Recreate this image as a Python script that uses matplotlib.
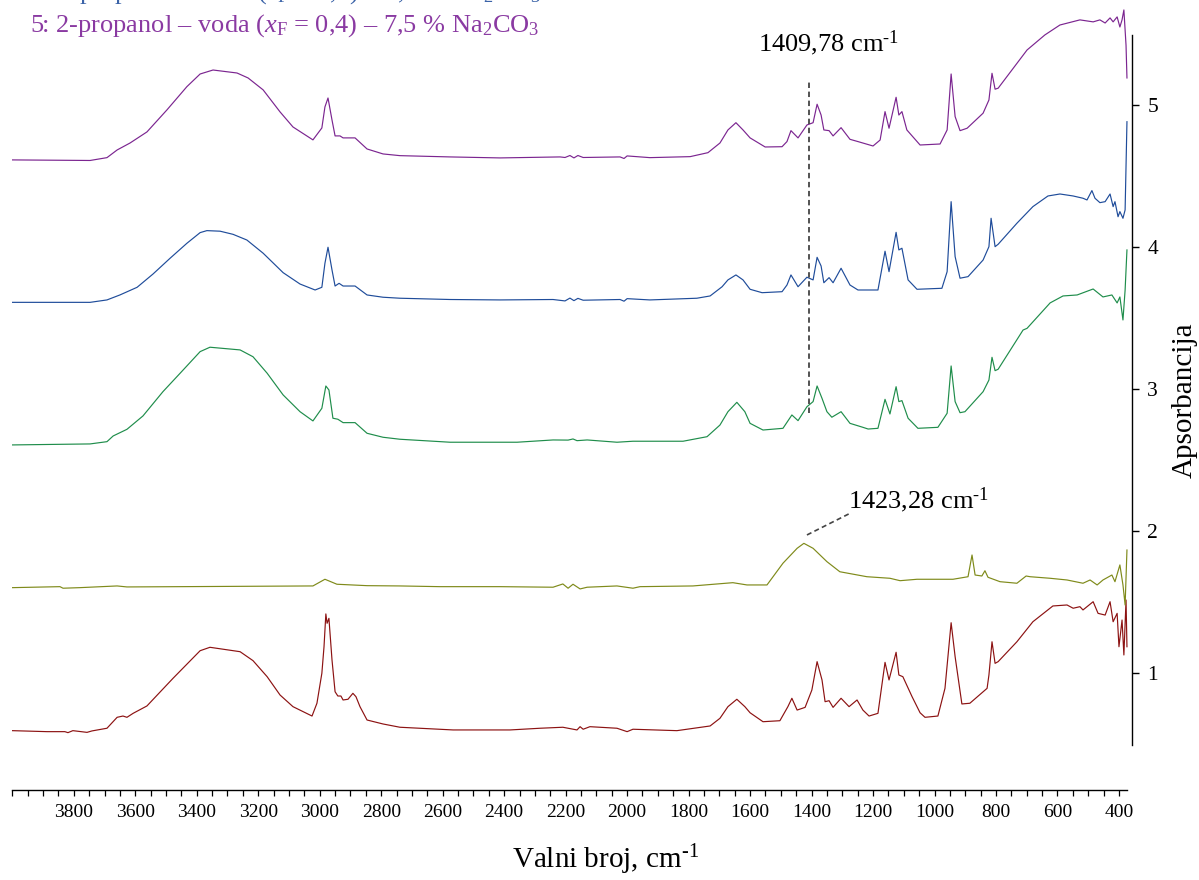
import matplotlib

matplotlib.use("Agg")
import matplotlib.pyplot as plt
from matplotlib.ticker import FixedLocator, MultipleLocator


# wavenumber (cm-1) and absorbance, one pair per spectrum
WN_1 = [4000, 3887, 3829, 3819, 3803, 3757, 3741, 3692, 3659, 3640,
        3627, 3607, 3562, 3477, 3389, 3357, 3259, 3217, 3171, 3129,
        3087, 3025, 3009, 2993, 2986, 2980, 2976, 2970, 2960, 2950,
        2941, 2931, 2924, 2908, 2892, 2882, 2869, 2846, 2794, 2739,
        2566, 2381, 2283, 2209, 2163, 2153, 2143, 2121, 2033, 2000,
        1981, 1838, 1730, 1698, 1672, 1643, 1617, 1600, 1558, 1503,
        1477, 1464, 1447, 1421, 1399, 1382, 1366, 1356, 1343, 1330,
        1304, 1278, 1252, 1233, 1213, 1184, 1161, 1148, 1125, 1116,
        1103, 1073, 1047, 1031, 989, 966, 946, 933, 911, 885,
        829, 823, 813, 803, 793, 732, 680, 615, 569, 549,
        527, 517, 484, 468, 445, 429, 419, 406, 400, 390,
        384, 377, 374]
ABS_1 = [0.594, 0.587, 0.587, 0.580, 0.594, 0.582, 0.592, 0.611, 0.688, 0.697,
         0.688, 0.716, 0.768, 0.963, 1.157, 1.181, 1.150, 1.087, 0.974, 0.845,
         0.763, 0.697, 0.787, 0.998, 1.185, 1.416, 1.350, 1.385, 1.092, 0.868,
         0.838, 0.838, 0.810, 0.815, 0.857, 0.833, 0.763, 0.669, 0.641, 0.618,
         0.599, 0.599, 0.611, 0.618, 0.599, 0.622, 0.604, 0.622, 0.611, 0.587,
         0.604, 0.594, 0.627, 0.681, 0.763, 0.815, 0.763, 0.720, 0.657, 0.664,
         0.763, 0.822, 0.739, 0.758, 0.880, 1.080, 0.951, 0.798, 0.805, 0.758,
         0.822, 0.763, 0.810, 0.739, 0.697, 0.716, 1.075, 0.951, 1.146, 0.986,
         0.974, 0.833, 0.720, 0.688, 0.697, 0.892, 1.354, 1.115, 0.782, 0.787,
         0.892, 0.986, 1.220, 1.068, 1.080, 1.220, 1.361, 1.472, 1.479, 1.456,
         1.467, 1.444, 1.502, 1.420, 1.408, 1.502, 1.361, 1.420, 1.185, 1.373,
         1.127, 1.514, 1.185]

WN_2 = [4000, 3845, 3835, 3780, 3659, 3627, 3022, 2983, 2944, 2846,
        2739, 2609, 2413, 2241, 2209, 2192, 2176, 2153, 2130, 2033,
        1981, 1958, 1786, 1656, 1610, 1545, 1493, 1447, 1425, 1395,
        1350, 1308, 1220, 1145, 1112, 1057, 940, 891, 878, 868,
        846, 836, 826, 787, 732, 702, 689, 624, 569, 517,
        494, 471, 452, 423, 413, 397, 387, 380, 374]
ABS_2 = [1.601, 1.608, 1.597, 1.601, 1.613, 1.606, 1.613, 1.660, 1.625, 1.615,
         1.613, 1.608, 1.608, 1.604, 1.627, 1.597, 1.625, 1.592, 1.604, 1.613,
         1.597, 1.608, 1.613, 1.636, 1.620, 1.620, 1.773, 1.878, 1.913, 1.878,
         1.784, 1.713, 1.678, 1.667, 1.650, 1.660, 1.660, 1.678, 1.831, 1.690,
         1.683, 1.720, 1.674, 1.643, 1.632, 1.683, 1.678, 1.667, 1.655, 1.632,
         1.655, 1.620, 1.655, 1.690, 1.643, 1.761, 1.620, 1.479, 1.866]

WN_3 = [4000, 3747, 3692, 3672, 3627, 3575, 3510, 3454, 3389, 3357,
        3259, 3217, 3171, 3119, 3064, 3022, 2993, 2980, 2970, 2957,
        2941, 2924, 2885, 2846, 2794, 2739, 2576, 2358, 2241, 2192,
        2176, 2163, 2130, 2033, 1981, 1818, 1740, 1698, 1672, 1643,
        1617, 1600, 1558, 1493, 1464, 1444, 1415, 1395, 1382, 1366,
        1350, 1334, 1304, 1275, 1233, 1216, 1184, 1161, 1145, 1125,
        1116, 1106, 1086, 1054, 989, 959, 946, 933, 917, 901,
        842, 823, 813, 803, 793, 712, 699, 624, 582, 536,
        484, 452, 423, 406, 397, 387, 380, 374]
ABS_3 = [2.606, 2.613, 2.629, 2.669, 2.716, 2.810, 2.981, 3.111, 3.263, 3.294,
         3.275, 3.227, 3.111, 2.958, 2.840, 2.775, 2.864, 3.021, 2.993, 2.794,
         2.787, 2.763, 2.763, 2.688, 2.660, 2.646, 2.625, 2.625, 2.641, 2.640,
         2.648, 2.636, 2.641, 2.625, 2.632, 2.632, 2.664, 2.746, 2.840, 2.906,
         2.840, 2.758, 2.711, 2.723, 2.817, 2.777, 2.875, 2.911, 3.021, 2.934,
         2.840, 2.801, 2.840, 2.758, 2.730, 2.718, 2.723, 2.927, 2.824, 3.016,
         2.911, 2.918, 2.794, 2.723, 2.730, 2.829, 3.162, 2.911, 2.833, 2.840,
         2.981, 3.063, 3.223, 3.129, 3.139, 3.415, 3.427, 3.606, 3.655, 3.662,
         3.704, 3.648, 3.662, 3.606, 3.648, 3.486, 3.697, 3.979]

WN_4 = [4000, 3747, 3692, 3650, 3594, 3542, 3487, 3432, 3389, 3367,
        3324, 3282, 3237, 3184, 3119, 3064, 3015, 2993, 2983, 2973,
        2960, 2950, 2937, 2924, 2885, 2846, 2794, 2739, 2576, 2413,
        2241, 2202, 2186, 2173, 2160, 2143, 2023, 2010, 2000, 1926,
        1773, 1730, 1691, 1672, 1646, 1623, 1600, 1561, 1496, 1480,
        1467, 1444, 1415, 1395, 1382, 1369, 1360, 1343, 1330, 1304,
        1275, 1249, 1184, 1161, 1148, 1125, 1116, 1106, 1086, 1057,
        976, 959, 946, 933, 917, 891, 842, 823, 816, 803,
        793, 732, 680, 631, 592, 549, 517, 504, 488, 478,
        462, 445, 429, 419, 413, 403, 397, 387, 380, 374]
ABS_4 = [3.610, 3.610, 3.627, 3.662, 3.716, 3.810, 3.920, 4.026, 4.101, 4.115,
         4.111, 4.089, 4.049, 3.956, 3.819, 3.739, 3.697, 3.716, 3.885, 3.998,
         3.838, 3.725, 3.744, 3.725, 3.725, 3.662, 3.646, 3.639, 3.630, 3.627,
         3.630, 3.620, 3.640, 3.622, 3.638, 3.625, 3.630, 3.618, 3.636, 3.627,
         3.639, 3.655, 3.720, 3.768, 3.803, 3.768, 3.702, 3.678, 3.685, 3.732,
         3.803, 3.720, 3.787, 3.768, 3.927, 3.866, 3.748, 3.784, 3.748, 3.850,
         3.732, 3.697, 3.697, 3.970, 3.826, 4.103, 3.979, 3.991, 3.768, 3.702,
         3.709, 3.826, 4.319, 3.932, 3.780, 3.791, 3.908, 4.002, 4.202, 4.002,
         4.019, 4.167, 4.284, 4.359, 4.373, 4.359, 4.343, 4.331, 4.397, 4.343,
         4.312, 4.319, 4.373, 4.284, 4.319, 4.213, 4.249, 4.202, 4.261, 4.882]

WN_5 = [4000, 3747, 3692, 3659, 3617, 3562, 3497, 3432, 3389, 3347,
        3269, 3233, 3184, 3129, 3087, 3022, 2993, 2983, 2973, 2960,
        2950, 2934, 2924, 2885, 2846, 2794, 2739, 2576, 2413, 2218,
        2202, 2186, 2173, 2160, 2143, 2023, 2010, 2000, 1926, 1795,
        1737, 1698, 1672, 1646, 1623, 1600, 1551, 1496, 1480, 1467,
        1444, 1415, 1395, 1382, 1369, 1360, 1343, 1330, 1304, 1275,
        1249, 1200, 1177, 1161, 1148, 1125, 1116, 1106, 1090, 1047,
        982, 959, 946, 933, 917, 894, 842, 823, 813, 803,
        793, 699, 641, 592, 527, 484, 462, 445, 429, 419,
        406, 397, 390, 384, 377, 374]
ABS_5 = [4.613, 4.609, 4.629, 4.683, 4.732, 4.810, 4.965, 5.129, 5.218, 5.246,
         5.225, 5.190, 5.106, 4.951, 4.845, 4.754, 4.838, 4.986, 5.049, 4.894,
         4.782, 4.782, 4.768, 4.768, 4.690, 4.655, 4.643, 4.634, 4.627, 4.634,
         4.630, 4.644, 4.627, 4.644, 4.630, 4.634, 4.623, 4.641, 4.629, 4.636,
         4.664, 4.732, 4.824, 4.875, 4.824, 4.768, 4.704, 4.706, 4.742, 4.819,
         4.768, 4.859, 4.875, 5.005, 4.929, 4.824, 4.819, 4.782, 4.840, 4.758,
         4.742, 4.711, 4.753, 4.953, 4.836, 5.054, 4.929, 4.953, 4.824, 4.718,
         4.725, 4.824, 5.218, 4.918, 4.819, 4.836, 4.942, 5.035, 5.223, 5.111,
         5.118, 5.387, 5.493, 5.563, 5.599, 5.585, 5.599, 5.577, 5.613, 5.585,
         5.620, 5.549, 5.599, 5.669, 5.420, 5.190]

SPECTRA = [
    (WN_1, ABS_1, "#8c1212"),
    (WN_2, ABS_2, "#7f8a1a"),
    (WN_3, ABS_3, "#1f8d4b"),
    (WN_4, ABS_4, "#1f4c9a"),
    (WN_5, ABS_5, "#7b2590"),
]

LEGEND_LINES = [
    ("4: 2-propanol – voda ($x_\\mathrm{F}$ = 0,6) – 5,0 % Na$_2$CO$_3$", "#3b63a8"),
    ("5: 2-propanol – voda ($x_\\mathrm{F}$ = 0,4) – 7,5 % Na$_2$CO$_3$", "#8a3aa2"),
]

Y_TICKS = [1, 2, 3, 4, 5]
X_LABELED = [3800, 3600, 3400, 3200, 3000, 2800, 2600, 2400, 2200, 2000,
             1800, 1600, 1400, 1200, 1000, 800, 600, 400]

PEAK_A = 1409.78
PEAK_B = 1423.28

INV_CM = "cm$^{\\text{-1}}$"


def configure_plots():
    plt.rcParams.update(
        {
            "font.family": "Liberation Serif",
            "mathtext.fontset": "custom",
            "mathtext.rm": "Liberation Serif",
            "mathtext.it": "Liberation Serif:italic",
            "mathtext.bf": "Liberation Serif:bold",
        }
    )


def main():
    configure_plots()

    W, H = 1199, 880
    fig = plt.figure(figsize=(W / 100, H / 100), dpi=100)
    # axes: left edge at x=12 px, right spine at x=1132 px, bottom of plot area at y=745 px
    ax = fig.add_axes([12.3 / W, 135 / H, (1132 - 12.3) / W, 745 / H])

    for wn, ab, color in SPECTRA:
        ax.plot(wn, ab, color=color, linewidth=0.85)

    ax.set_xlim(4000, 357.6)
    ax.set_ylim(0.493, 5.739)

    ax.spines["left"].set_visible(False)
    ax.spines["top"].set_visible(False)
    ax.spines["right"].set_bounds(0.493, 5.493)
    ax.spines["bottom"].set_bounds(4000, 374)
    ax.spines["bottom"].set_position(("outward", 32.4))
    for side in ("right", "bottom"):
        ax.spines[side].set_linewidth(1.0)

    ax.yaxis.tick_right()
    ax.yaxis.set_major_locator(FixedLocator(Y_TICKS))
    ax.tick_params(axis="y", direction="out", length=5, width=1.0, pad=6, labelsize=15.5)

    ax.xaxis.set_major_locator(FixedLocator(X_LABELED))
    ax.xaxis.set_minor_locator(MultipleLocator(50))
    ax.tick_params(axis="x", which="both", direction="out", length=4, width=0.9,
                   pad=6, labelsize=14)

    # peak annotations
    ax.plot([PEAK_A, PEAK_A], [2.833, 5.171], color="#444444", linewidth=1.3,
            linestyle=(0, (3, 2)))
    ax.text(1574, 5.437, "1409,78 " + INV_CM, fontsize=19, ha="left", va="center")
    ax.plot([1415, 1279], [1.972, 2.120], color="#444444", linewidth=1.2,
            linestyle=(0, (3, 2)))
    ax.text(1281, 2.218, "1423,28 " + INV_CM, fontsize=19, ha="left", va="center")

    # legend lines at the top; the first one is cut by the image edge as in the source
    fig.text(30 / W, 1 + 7 / H, LEGEND_LINES[0][0], color=LEGEND_LINES[0][1],
             fontsize=19, ha="left", va="center")
    fig.text(30 / W, 1 - 26 / H, LEGEND_LINES[1][0], color=LEGEND_LINES[1][1],
             fontsize=19, ha="left", va="center")

    fig.text(606 / W, 1 - 860 / H, "Valni broj, " + INV_CM,
             fontsize=21, ha="center", va="center")
    fig.text(1185 / W, 1 - 400 / H, "Apsorbancija", fontsize=21, rotation=90,
             ha="center", va="center")

    fig.savefig("out.png", dpi=100)
    plt.close("all")


if __name__ == "__main__":
    main()
